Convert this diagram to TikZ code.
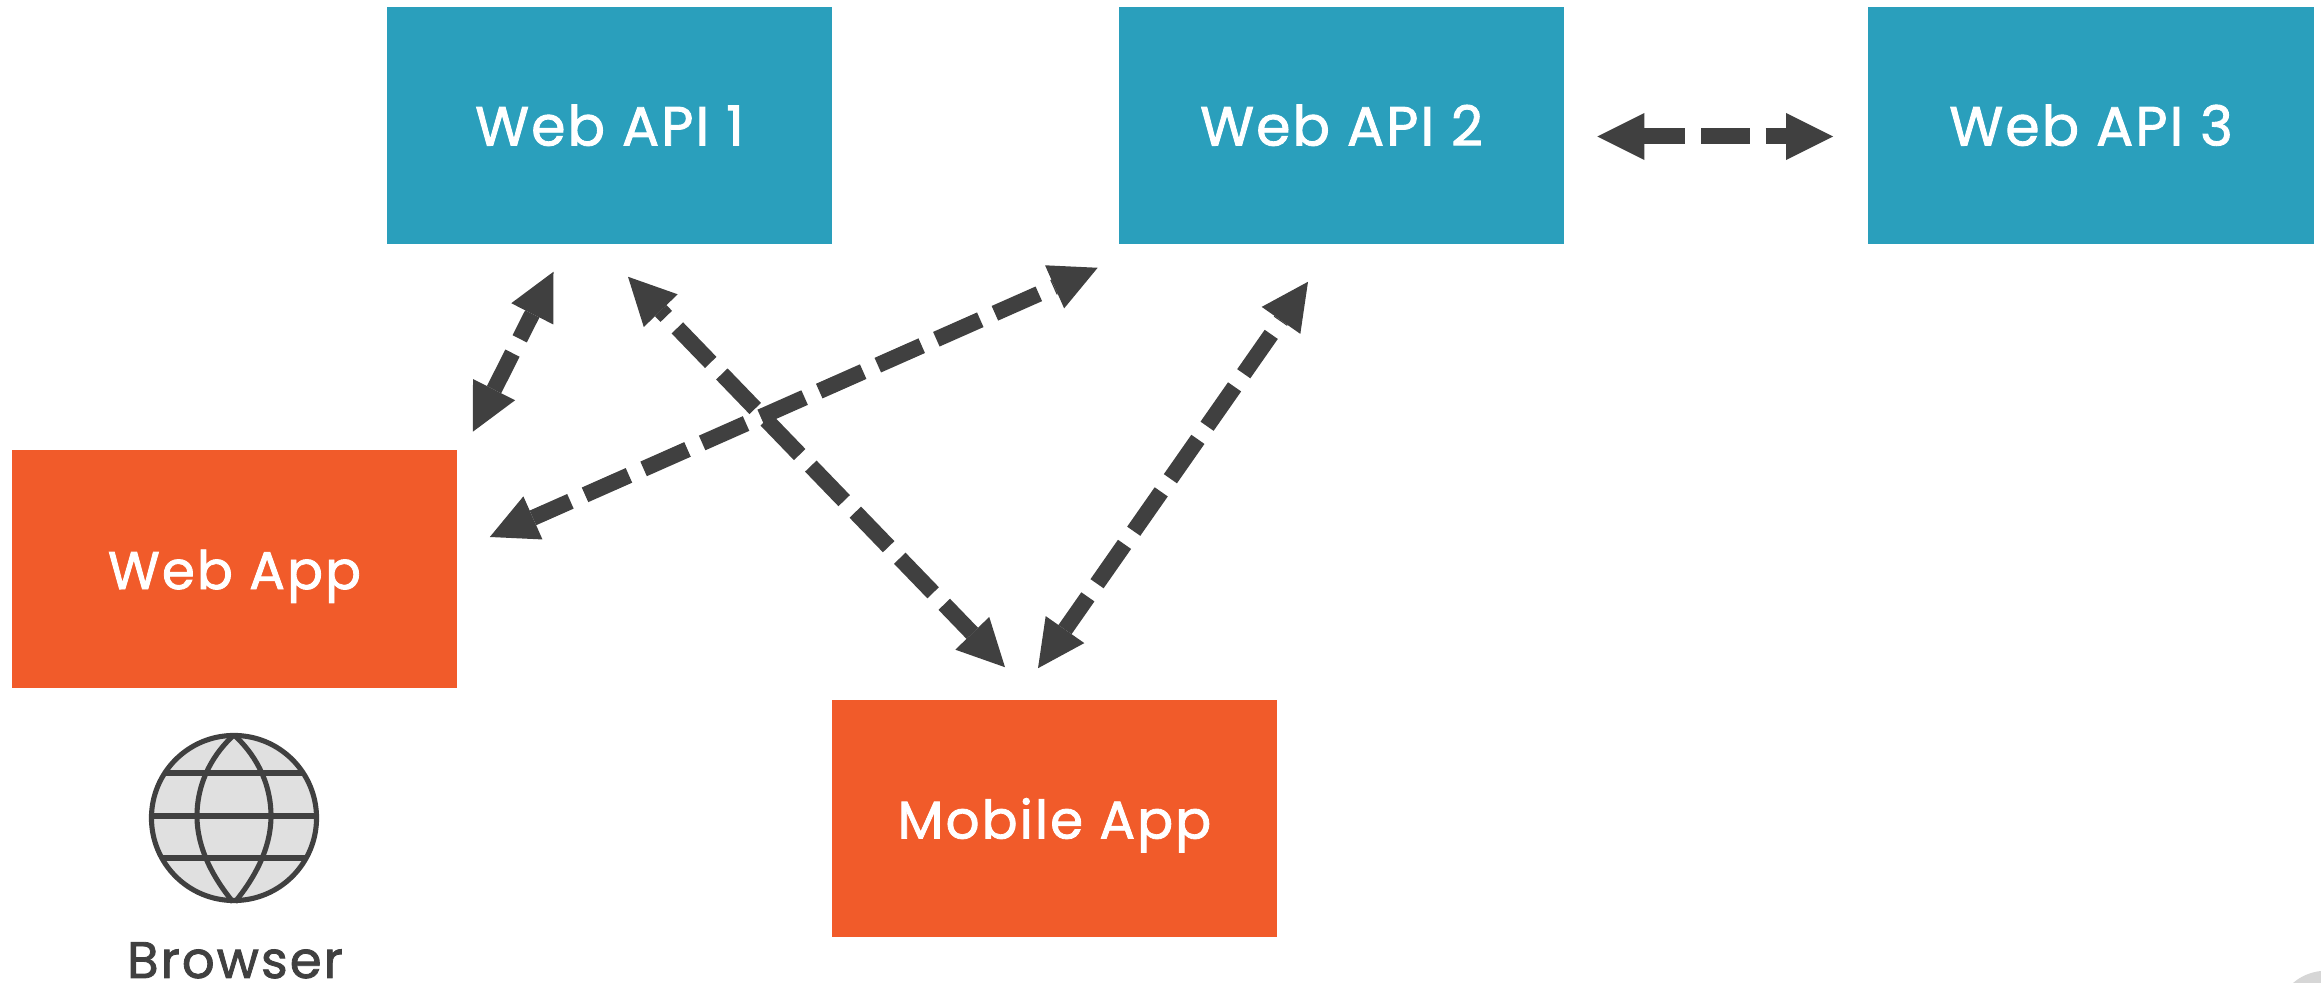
\documentclass[tikz,border=0pt]{standalone}
\usepackage{fontspec}
\setmainfont[LetterSpace=4,FakeBold=1.6]{Poppins}
\usetikzlibrary{arrows.meta}
\definecolor{apiblue}{HTML}{2A9FBC}
\definecolor{apporange}{HTML}{F15B2A}
\definecolor{linkgray}{HTML}{404040}
\definecolor{globegray}{HTML}{E0E0E0}
\definecolor{cornergray}{HTML}{D6D6D6}
\begin{document}
\begin{tikzpicture}
 [x=0.01cm,y=-0.01cm,
box/.style={minimum width=4.45cm,minimum height=2.37cm,inner sep=0pt,text=white,text height=11.4pt,text depth=0pt},
api/.style={box,fill=apiblue,font=\fontsize{15.7}{18}\selectfont},
app/.style={box,fill=apporange,font=\fontsize{15.1}{18}\selectfont},
link/.style={{Triangle[length=13.4pt,width=13.4pt,line width=0pt]}-{Triangle[length=13.4pt,width=13.4pt,line width=0pt]},linkgray,line width=4.55pt,dash pattern=on 13.66pt off 4.55pt},
globeline/.style={linkgray,line width=1.45pt}]
\useasboundingbox (0,0) rectangle (2321,983);
\fill[cornergray] (2293,983) .. controls (2301,976) and (2311,972) .. (2321,971) -- (2321,983) -- cycle;

\node (api1) at (609.5,125.5)[api] {Web API 1};
\node (api2) at (1341.5,125.5)[api] {Web API 2};
\node (api3) at (2091,125.5)[api] {Web API 3};
\node (wa) at (234.5,569)[app] {Web App};
\node (ma) at (1054.5,818.5)[app] {Mobile App};

\node (globe) at (234,818)[circle,draw=linkgray,fill=globegray,line width=1.45pt,minimum size=1.65cm,inner sep=0pt] {};
\draw[globeline] (165,773) -- (303,773);
\draw[globeline] (152,816) -- (316,816);
\draw[globeline] (163,858) -- (305,858);
\draw[globeline] (234,735) .. controls (215,752) and (197,780) .. (197,816) .. controls (197,850) and (215,880) .. (233,902);
\draw[globeline] (234,735) .. controls (253,752) and (271,780) .. (271,816) .. controls (271,850) and (253,880) .. (235,902);
\node (browser) at (235,978)[anchor=base,text=linkgray,inner sep=0pt,text height=10.2pt,text depth=0pt,font=\fontsize{14.6}{18}\selectfont] {Browser};

\draw[link,dash phase=5.7pt] ([shift={(-56,27)}]api1.south) -- ([shift={(15,-18)}]wa.north east);
\draw[link,dash phase=11.4pt] ([shift={(18.5,32)}]api1.south) -- ([shift={(-49.5,-32)}]ma.north);
\draw[link,dash phase=2pt] ([shift={(32,-32)}]wa.east) -- ([shift={(-20.5,23)}]api2.south west);
\draw[link,dash phase=2.3pt] ([shift={(-16.5,-31)}]ma.north) -- ([shift={(-33.5,37)}]api2.south);
\draw[link,dash phase=2pt] ([shift={(32.5,11)}]api2.east) -- ([shift={(-34.5,11)}]api3.west);
\end{tikzpicture}
\end{document}
